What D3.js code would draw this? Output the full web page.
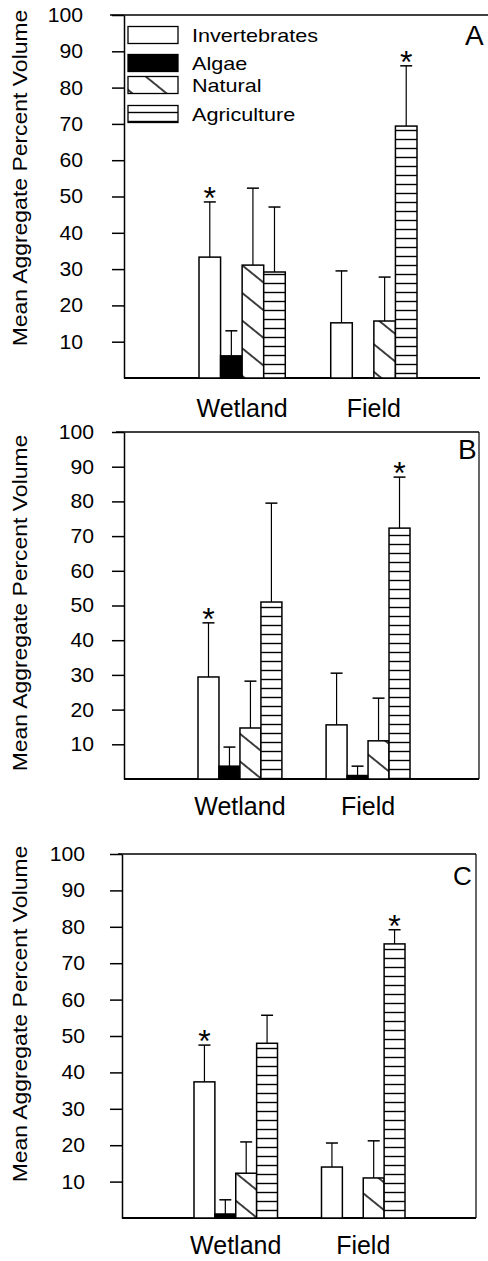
<!DOCTYPE html>
<html>
<head>
<meta charset="utf-8">
<script src="https://cdn.jsdelivr.net/npm/d3@7"></script>
<style>
  body { margin: 0; background: #fff; }
  svg { display: block; }
</style>
</head>
<body>
<div id="chart"></div>
<script>
// data
const groups = ["Wetland", "Field"];
const series = ["Invertebrates", "Algae", "Natural", "Agriculture"];
const yTicks = [10, 20, 30, 40, 50, 60, 70, 80, 90, 100];

// means [group][series], error = upper error bar length
const meansA = [[33.3, 6.1, 31.1, 29.2], [15.2, 0, 15.7, 69.4]];
const errA   = [[15.2, 6.9, 21.2, 17.9], [14.3, 0, 12.1, 16.6]];
const meansB = [[29.4, 3.7, 14.7, 51.0], [15.6, 1.0, 11.0, 72.3]];
const errB   = [[15.6, 5.5, 13.5, 28.5], [14.9, 2.7, 12.3, 14.7]];
const meansC = [[37.4, 1.1, 12.3, 48.0], [14.0, 0, 11.0, 75.3]];
const errC   = [[10.1, 3.9, 8.6, 7.7], [6.6, 0, 10.2, 3.9]];
// bars marked with an asterisk
const signif = [["Wetland", "Invertebrates"], ["Field", "Agriculture"]];

const width = 488, height = 1261;
const font = "'Liberation Sans', Arial, sans-serif";

// panel layout
const panels = [
  { name: "A", means: meansA, errs: errA, top: 15, base: 378, axisX: 124, barRange: [199, 417],
    frameLeft: 110, frameRight: 488, right: 480, box: false, labelRight: 83, titleY: 178,
    letter: [465, 45, 28], xLabelY: 417, legend: true },
  { name: "B", means: meansB, errs: errB, top: 432, base: 779, axisX: 124, barRange: [198, 410],
    frameLeft: 116, frameRight: 479, right: 479, box: true, labelRight: 94, titleY: 603,
    letter: [458, 459, 28], xLabelY: 815, legend: false },
  { name: "C", means: meansC, errs: errC, top: 854, base: 1218, axisX: 122, barRange: [194, 405],
    frameLeft: 118, frameRight: 476, right: 476, box: true, labelRight: 85, titleY: 1014,
    letter: [453, 885, 26], xLabelY: 1254, legend: false }
];

const fills = {
  "Invertebrates": "#fff",
  "Algae": "#000",
  "Natural": "url(#hatch)",
  "Agriculture": "url(#stripes)"
};

d3.select("#chart").selectAll("*").remove();
const svg = d3.select("#chart").append("svg")
  .attr("width", width)
  .attr("height", height)
  .style("font-family", font);

svg.append("rect").attr("width", width).attr("height", height).attr("fill", "#fff");

// patterns
const defs = svg.append("defs");
const hatch = defs.append("pattern")
  .attr("id", "hatch")
  .attr("patternUnits", "userSpaceOnUse")
  .attr("width", 8).attr("height", 21.5)
  .attr("patternTransform", "rotate(39)");
hatch.append("rect").attr("width", 8).attr("height", 21.5).attr("fill", "#fff");
hatch.append("line").attr("x1", 0).attr("x2", 8).attr("y1", 10.75).attr("y2", 10.75)
  .attr("stroke", "#000").attr("stroke-width", 1.5);

const stripes = defs.append("pattern")
  .attr("id", "stripes")
  .attr("patternUnits", "userSpaceOnUse")
  .attr("width", 8).attr("height", 9);
stripes.append("rect").attr("width", 8).attr("height", 9).attr("fill", "#fff");
stripes.append("line").attr("x1", 0).attr("x2", 8).attr("y1", 4.5).attr("y2", 4.5)
  .attr("stroke", "#000").attr("stroke-width", 1.4);

panels.forEach(p => {
  const g = svg.append("g");

  const y = d3.scaleLinear().domain([0, 100]).range([p.base, p.top]);
  const x0 = d3.scaleBand().domain(groups).range(p.barRange).paddingInner(0.345);
  const x1 = d3.scaleBand().domain(series).range([0, x0.bandwidth()]);

  // frame
  g.append("line")
    .attr("x1", p.frameLeft).attr("x2", p.frameRight)
    .attr("y1", y(100)).attr("y2", y(100))
    .attr("stroke", "#000").attr("stroke-width", 1.5);
  g.append("line")
    .attr("x1", p.axisX).attr("x2", p.right)
    .attr("y1", y(0)).attr("y2", y(0))
    .attr("stroke", "#000").attr("stroke-width", 2);
  if (p.box) {
    g.append("line")
      .attr("x1", p.right).attr("x2", p.right)
      .attr("y1", y(100)).attr("y2", y(0))
      .attr("stroke", "#000").attr("stroke-width", 1.2);
  }

  // y axis
  const tickLen = 12, pad = p.axisX - tickLen - p.labelRight;
  const axis = g.append("g")
    .attr("transform", `translate(${p.axisX},0)`)
    .call(d3.axisLeft(y).tickValues(yTicks).tickSize(tickLen).tickPadding(pad).tickSizeOuter(0));
  axis.select(".domain").attr("stroke-width", 1.5);
  axis.selectAll(".tick line").attr("stroke-width", 1.5);
  axis.selectAll(".tick text")
    .attr("x", null)
    .attr("transform", `translate(${-(tickLen + pad)},0) scale(1.06,1)`)
    .attr("font-family", font)
    .attr("font-size", 20)
    .attr("fill", "#000");

  // y title
  g.append("text")
    .attr("transform", `translate(27,${p.titleY}) rotate(-90) scale(1.12,1)`)
    .attr("text-anchor", "middle")
    .attr("font-size", 20.5)
    .text("Mean Aggregate Percent Volume");

  // x labels
  g.selectAll(".xlab")
    .data(groups)
    .join("text")
    .attr("class", "xlab")
    .attr("x", d => x0(d) + x0.bandwidth() / 2)
    .attr("y", p.xLabelY)
    .attr("text-anchor", "middle")
    .attr("font-size", 25)
    .text(d => d);

  // panel letter
  g.append("text")
    .attr("x", p.letter[0]).attr("y", p.letter[1])
    .attr("font-size", p.letter[2])
    .text(p.name);

  // bars
  const rows = groups.flatMap((grp, gi) => series.map((s, si) => ({
    group: grp, series: s, value: p.means[gi][si], err: p.errs[gi][si]
  }))).filter(d => d.value > 0);

  g.selectAll(".bar")
    .data(rows)
    .join("rect")
    .attr("class", "bar")
    .attr("x", d => x0(d.group) + x1(d.series))
    .attr("y", d => y(d.value))
    .attr("width", x1.bandwidth())
    .attr("height", d => y(0) - y(d.value))
    .attr("fill", d => fills[d.series])
    .attr("stroke", "#000")
    .attr("stroke-width", 1.5);

  // error bars (upper only)
  const eb = g.selectAll(".err")
    .data(rows.filter(d => d.err > 0))
    .join("g")
    .attr("class", "err")
    .attr("transform", d => `translate(${x0(d.group) + x1(d.series) + x1.bandwidth() / 2},0)`);
  eb.append("line")
    .attr("y1", d => y(d.value)).attr("y2", d => y(d.value + d.err))
    .attr("stroke", "#000").attr("stroke-width", 1.2);
  eb.append("line")
    .attr("x1", -6).attr("x2", 6)
    .attr("y1", d => y(d.value + d.err)).attr("y2", d => y(d.value + d.err))
    .attr("stroke", "#000").attr("stroke-width", 1.5);

  // asterisks
  const star = rows.filter(d => signif.some(s => s[0] === d.group && s[1] === d.series));
  g.selectAll(".star")
    .data(star)
    .join("text")
    .attr("class", "star")
    .attr("x", d => x0(d.group) + x1(d.series) + x1.bandwidth() / 2)
    .attr("y", d => y(d.value + d.err) + 7)
    .attr("text-anchor", "middle")
    .attr("font-size", 32)
    .text("*");

  // legend
  if (p.legend) {
    const legendY = [35, 63, 85, 114];
    const lg = g.append("g");
    series.forEach((s, i) => {
      lg.append("rect")
        .attr("x", 128).attr("y", legendY[i] - 8.5)
        .attr("width", 50).attr("height", 17)
        .attr("fill", fills[s])
        .attr("stroke", "#000")
        .attr("stroke-width", 1.3);
      lg.append("text")
        .attr("transform", `translate(192,${legendY[i] + 7}) scale(1.2,1)`)
        .attr("font-size", 18)
        .text(s);
    });
  }
});
</script>
</body>
</html>
